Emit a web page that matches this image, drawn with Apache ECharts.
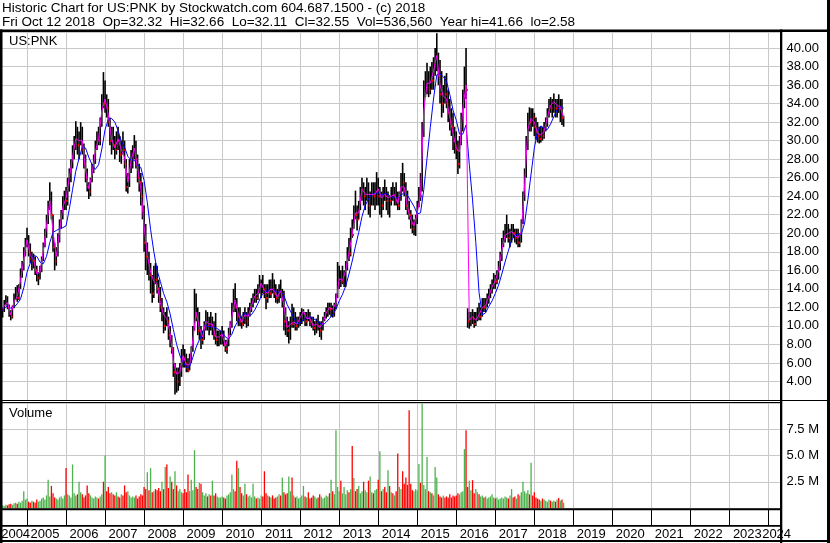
<!DOCTYPE html>
<html><head><meta charset="utf-8">
<script src="https://cdn.jsdelivr.net/npm/echarts@6.0.0/dist/echarts.min.js"></script>
<style>html,body{margin:0;padding:0;background:#fff}#c{width:830px;height:543px}</style>
</head><body><div id="c"></div>
<script>
// ---- time base: half-month periods from May 2004 to May 2024 ----
const firstYear = 2004, firstMonth = 5, periodCount = 481;

// ---- price per half-month: high / low / close (2004-05 .. 2018-10) ----
const high = [
12.4,12.0,12.8,13.3,13.2,12.3,11.7,12.2,13.5,14.2,14.4,14.5,16.2,17.0,18.5,19.5,
20.6,19.8,18.9,18.0,17.8,17.5,16.5,15.8,16.5,17.5,19.0,20.5,22.0,23.5,25.5,24.5,22.0,19.0,18.5,20.0,21.5,22.5,24.0,24.6,
25.0,26.0,27.0,28.0,29.5,30.5,32.1,31.5,31.0,32.0,31.5,29.7,28.5,27.0,25.5,26.0,27.5,28.5,30.0,31.0,31.5,32.5,35.0,37.4,
36.5,35.0,34.5,32.5,31.5,31.5,30.5,31.0,31.5,30.5,30.0,31.0,30.0,28.0,26.5,28.0,29.0,29.5,30.6,30.0,28.5,27.5,26.5,25.5,
23.0,21.0,19.0,18.0,16.8,15.5,16.5,16.8,16.5,15.0,14.2,13.0,12.0,11.5,12.0,11.0,10.0,9.0,7.7,6.0,5.5,5.5,6.0,7.5,
8.0,7.5,7.0,6.5,7.0,7.8,10.0,14.0,13.5,12.0,11.5,10.0,9.5,10.5,11.7,11.5,11.0,11.5,11.0,10.5,11.4,9.5,9.5,9.5,
10.0,9.5,8.5,8.5,9.8,10.5,12.5,14.0,14.6,13.0,12.0,12.0,11.0,11.5,12.0,11.5,12.0,12.5,13.0,13.5,14.0,14.0,14.5,15.5,
15.0,15.5,14.5,14.5,14.5,15.0,15.0,15.7,15.0,14.5,14.0,14.5,15.0,14.0,13.8,12.0,11.0,10.5,11.0,12.4,12.0,11.5,11.0,11.0,
11.5,11.9,11.8,11.5,11.5,11.8,11.5,11.0,11.0,10.5,10.8,11.2,10.5,10.5,11.0,11.5,12.0,12.5,12.5,12.5,12.2,12.5,13.5,16.9,
16.5,16.0,16.5,16.0,17.0,18.5,19.5,20.6,21.5,23.0,24.6,23.0,23.5,25.0,26.0,25.5,25.0,26.0,25.5,24.5,25.5,25.5,25.5,26.6,
26.0,25.0,24.5,25.0,25.8,25.0,24.5,24.0,25.0,25.5,25.0,25.5,24.5,24.5,26.5,27.6,26.5,25.5,24.6,23.5,22.5,22.0,21.5,22.0,
23.5,25.0,26.5,32.0,36.5,37.5,38.4,37.5,38.0,38.5,39.0,40.0,41.6,39.5,38.7,37.5,36.0,37.0,37.3,35.5,34.5,33.5,33.0,31.5,
31.0,30.0,30.5,33.0,35.5,38.0,40.0,11.9,11.5,11.5,11.8,11.5,11.5,12.0,12.5,12.0,13.0,13.0,13.0,13.5,14.0,14.5,15.0,15.7,
15.5,16.0,17.0,18.0,19.5,20.3,21.0,22.0,21.0,20.5,21.0,21.0,20.5,20.5,20.5,20.0,21.5,24.5,27.0,30.5,33.0,33.6,33.5,33.5,
33.0,32.5,32.0,31.5,31.5,31.5,32.0,32.5,33.5,34.5,34.7,34.5,35.1,34.5,34.5,35.0,34.5,34.5,32.7
];
const low = [
11.0,10.9,11.5,12.2,11.8,11.0,10.6,10.8,11.9,12.8,12.6,12.8,14.0,15.2,16.0,17.5,
18.5,17.5,16.8,16.0,16.2,15.5,14.8,14.4,15.0,15.8,17.0,18.5,19.5,21.0,22.5,21.5,18.0,16.0,16.5,17.5,19.0,20.5,21.5,22.5,
22.5,23.0,24.5,25.5,27.0,28.0,29.0,28.5,28.0,29.5,28.5,27.0,25.5,24.5,23.7,24.0,25.5,26.5,27.5,29.0,29.5,29.5,31.5,33.5,
33.0,32.5,31.5,29.5,28.5,29.0,28.0,28.5,29.0,27.7,27.5,28.5,27.0,24.5,24.3,25.0,26.5,27.0,28.0,27.0,25.5,24.5,23.0,21.5,
18.0,16.0,15.5,14.9,13.5,12.5,13.0,14.5,13.5,12.5,11.5,10.5,9.2,9.5,10.0,8.5,7.7,7.0,4.5,2.6,2.8,3.0,3.5,4.5,
5.5,5.5,5.0,5.0,5.2,6.0,7.2,9.5,10.5,9.0,8.5,7.5,8.0,8.5,9.5,9.5,9.0,9.5,9.0,8.5,8.0,7.8,7.8,8.0,
8.0,7.8,7.2,7.0,7.8,9.0,9.8,11.5,11.5,10.5,10.0,10.0,9.7,10.0,10.2,9.8,10.0,11.0,11.5,12.0,12.5,12.5,12.8,13.5,
13.0,13.5,13.0,11.8,12.5,13.0,13.0,13.5,13.0,12.5,12.4,12.5,13.0,12.0,9.5,9.0,8.8,8.1,8.5,9.8,9.8,9.5,9.5,9.8,
10.0,10.2,10.5,10.0,10.0,10.5,10.0,9.8,9.5,9.0,9.2,9.5,8.8,8.5,9.5,10.5,10.8,11.0,11.2,11.0,10.9,11.0,11.8,13.0,
14.0,14.2,14.5,14.2,14.2,16.0,17.0,17.5,19.5,20.5,21.5,20.3,21.5,22.5,23.5,23.0,22.5,23.5,22.0,21.7,23.0,23.0,22.5,23.0,
23.0,22.0,21.7,22.5,23.5,22.5,22.0,21.7,23.0,23.5,23.0,23.0,22.5,22.5,23.5,24.5,24.0,22.5,22.0,21.5,20.5,20.0,19.8,19.7,
21.0,22.8,23.5,24.5,30.4,34.7,35.0,34.7,35.0,35.5,35.5,37.0,37.5,36.0,34.0,32.5,33.0,34.0,33.5,32.0,31.1,30.5,29.0,28.6,
28.0,26.4,27.0,29.5,31.0,33.5,34.5,9.8,9.7,10.0,10.2,9.8,10.0,10.5,10.6,10.6,11.0,11.5,11.5,12.0,12.4,13.0,13.5,14.0,
14.0,14.5,15.0,16.0,17.0,18.5,19.0,19.5,19.0,18.5,19.0,19.5,19.0,18.8,18.5,18.5,19.0,21.0,23.5,26.0,29.0,31.0,31.0,31.5,
30.5,30.1,29.8,29.7,29.8,30.0,30.2,31.0,31.5,32.5,33.0,32.5,33.0,32.5,32.5,33.0,32.0,31.7,31.5
];
const close = [
11.5,11.8,12.5,13.0,12.0,11.3,11.0,12.0,13.2,13.4,13.0,14.2,15.6,16.5,18.0,19.0,
19.6,18.0,17.2,17.5,17.0,16.0,15.2,15.5,16.2,17.2,18.8,20.0,21.5,23.0,24.0,22.0,18.5,17.0,18.0,19.5,21.0,22.0,23.5,24.0,
23.5,25.5,26.5,27.5,29.0,30.0,30.5,29.5,30.5,31.0,29.0,27.5,26.0,25.0,24.5,25.8,27.0,28.0,29.5,30.5,30.0,32.0,34.5,34.0,
35.0,33.5,32.0,30.0,30.5,29.5,29.0,30.5,30.0,28.5,29.5,29.0,27.5,25.0,26.0,27.5,28.0,29.0,29.5,28.0,26.0,25.5,24.0,22.5,
19.0,17.5,17.8,15.5,16.0,13.5,16.0,15.0,14.0,13.0,12.0,12.3,10.0,11.0,10.5,9.0,9.5,7.5,5.0,5.5,4.0,4.5,5.5,7.0,
6.5,6.0,5.5,5.2,6.5,7.5,9.5,12.0,11.0,9.5,10.0,8.5,9.0,10.0,11.0,10.0,10.5,10.0,10.3,9.0,8.5,8.7,8.8,9.0,
9.2,8.0,7.5,8.0,9.5,10.0,12.0,13.5,12.0,11.0,11.5,10.5,10.2,11.0,11.3,10.5,11.5,12.0,12.5,13.0,13.5,13.0,14.0,14.5,
14.8,14.0,13.5,13.0,14.0,13.5,14.5,14.0,13.5,13.0,13.2,14.0,13.5,13.8,10.5,10.0,9.5,9.8,10.5,10.2,10.5,10.0,10.5,10.8,
11.0,11.5,11.7,10.5,11.2,11.0,10.5,10.2,9.8,10.0,10.5,10.0,9.5,9.8,10.8,11.0,11.8,12.2,11.8,12.0,11.5,12.0,13.0,15.0,
15.2,14.8,15.0,15.5,16.5,18.0,17.8,20.0,19.8,22.5,22.0,21.5,23.0,24.5,25.0,24.0,24.5,25.5,23.0,24.0,24.5,24.0,24.5,25.5,
24.0,24.5,23.0,24.5,24.0,23.5,24.0,23.5,24.5,24.0,24.5,23.5,23.0,24.0,26.0,25.5,24.5,23.0,22.5,22.0,21.0,20.5,21.0,21.5,
23.0,24.5,24.0,31.0,35.5,36.0,36.5,35.5,37.0,36.5,38.5,39.0,39.5,37.0,35.0,34.0,35.5,35.0,34.0,33.0,32.0,31.5,30.0,29.5,
29.0,27.5,30.0,32.5,34.5,36.5,35.5,10.5,10.8,11.2,10.8,10.2,11.0,11.5,11.0,11.5,12.5,12.0,12.5,13.0,13.5,14.0,14.5,15.0,
14.8,15.5,16.5,17.5,19.0,19.5,20.0,20.5,19.5,20.0,20.5,20.0,19.5,20.0,19.0,19.5,21.0,24.0,26.5,30.0,32.5,32.0,32.8,32.5,
31.5,31.0,30.5,30.2,31.0,30.5,31.5,32.0,33.0,34.0,33.5,34.0,34.3,33.5,34.0,33.5,33.8,32.5,32.55
];

// ---- volume per half-month, millions of shares ----
const volume = [
0.3,0.25,0.2,0.3,0.25,0.35,0.4,0.3,0.45,0.5,0.4,0.6,0.5,0.7,1.6,0.8,
0.9,0.6,0.5,0.7,0.6,0.5,0.8,0.6,0.7,0.9,1.0,0.8,1.2,2.7,1.1,2.1,1.4,1.0,0.9,0.8,1.0,1.1,0.9,1.2,
3.8,1.3,1.2,1.0,4.15,1.4,1.2,1.3,2.5,1.5,1.3,1.0,1.2,2.15,1.4,1.2,1.0,0.9,1.1,1.0,0.9,1.1,1.3,2.5,
5.0,1.6,2.0,1.4,1.5,1.3,1.2,1.5,1.1,1.0,1.3,1.2,2.15,1.5,1.6,1.2,1.0,1.1,1.0,1.2,0.9,1.1,1.3,1.2,
2.0,1.8,3.4,1.7,3.8,1.5,1.6,1.8,1.7,1.9,1.6,2.5,1.8,3.9,4.15,1.9,3.0,2.5,1.8,3.5,2.15,1.6,1.8,1.5,
1.4,1.8,1.5,3.2,1.6,2.7,1.7,5.5,2.0,1.8,2.4,2.3,1.5,1.2,1.4,1.1,1.3,1.2,2.6,1.2,1.4,1.1,1.0,1.0,
1.1,1.0,0.9,1.2,1.3,1.5,3.2,1.8,1.6,4.5,3.8,2.0,1.4,1.2,2.3,1.3,1.1,1.2,1.0,2.3,1.1,0.9,1.0,0.9,
1.2,1.1,3.5,1.4,1.2,1.1,1.0,1.2,0.9,1.0,1.1,1.3,1.2,2.9,1.5,1.3,1.4,3.0,1.6,2.9,1.2,1.0,1.1,0.9,
1.0,1.2,2.1,1.1,1.0,1.5,0.9,1.0,1.2,1.1,0.9,1.0,1.3,1.1,0.9,1.0,1.2,1.1,1.4,2.7,1.6,1.3,7.4,2.0,
1.6,2.6,1.4,2.0,1.3,1.7,1.5,1.8,5.9,2.85,1.6,1.8,2.1,1.4,1.6,2.5,1.7,1.5,2.6,3.0,1.5,1.4,1.7,1.8,
2.7,5.4,1.6,1.8,2.0,1.5,3.6,2.1,1.5,1.4,1.2,1.6,5.2,2.0,1.8,3.5,2.3,2.9,2.2,9.3,2.3,1.7,1.6,1.8,
1.7,4.2,2.4,9.95,2.2,1.8,4.85,1.6,1.5,1.4,1.2,3.9,2.9,1.3,1.1,1.0,1.2,1.0,1.1,1.0,1.3,1.0,1.2,1.1,
1.2,1.4,1.3,1.5,1.6,5.6,7.4,2.0,2.6,1.7,2.65,1.4,1.8,1.5,1.3,1.1,1.2,1.0,1.1,0.9,1.0,1.1,1.3,1.0,
0.9,1.0,0.8,0.9,1.0,0.9,1.1,1.0,0.9,1.2,1.8,1.0,1.1,0.9,1.3,1.2,1.5,2.5,1.6,1.4,1.7,1.3,4.3,1.2,
1.5,1.0,0.9,0.8,0.7,0.9,0.8,0.7,0.6,0.8,0.7,0.6,0.7,0.6,0.8,0.95,0.7,0.8,0.5
];

// ---- moving averages read at each month start (every 2nd period) ----
const maShort = [
11.5,12.2,12.5,11.2,12.6,13.2,14.9,17.2,
19.3,17.6,17.2,15.6,15.8,18.0,20.8,23.5,20.2,17.5,20.2,22.8,
23.8,26.0,28.2,30.2,30.0,30.0,26.8,24.8,26.4,28.8,30.2,33.2,
34.5,32.8,30.2,29.2,30.2,29.0,28.2,25.5,27.8,29.2,27.0,24.8,
20.8,17.6,15.8,14.8,14.5,12.5,11.2,10.8,9.2,6.2,4.8,5.0,
6.8,5.8,5.8,8.5,11.5,9.8,8.8,10.5,10.2,10.2,8.8,8.8,
9.1,7.8,8.8,11.0,12.8,11.2,10.4,11.2,11.0,12.2,13.2,13.5,
14.6,13.8,13.5,14.0,13.8,13.1,13.8,12.2,9.8,10.2,10.4,10.2,
10.9,11.6,10.8,10.8,10.0,10.2,9.8,10.3,11.4,12.0,11.8,12.5,
15.1,14.9,16.0,17.9,19.9,22.2,22.2,24.8,24.2,24.2,24.2,24.2,
24.8,23.8,24.2,23.8,24.0,24.2,23.2,25.0,25.0,22.8,21.5,20.8,
22.2,24.2,33.2,36.2,36.2,37.5,39.2,36.0,34.8,34.5,32.5,30.8,
29.2,28.8,33.5,36.0,10.6,11.0,10.6,11.2,12.0,12.2,13.2,14.2,
14.9,16.0,18.2,19.8,20.0,20.2,19.8,19.5,20.2,25.2,31.2,32.4,
32.0,30.8,30.6,31.0,32.5,33.8,34.2,33.8,33.6,32.5
];
const maLong = [
11.5,11.9,12.2,11.9,12.0,12.4,12.9,14.1,
15.8,16.8,17.6,17.5,16.9,16.7,17.5,19.0,20.1,20.3,20.5,20.6,
20.8,22.6,24.7,26.7,28.1,29.3,29.2,28.2,27.4,26.9,27.4,29.1,
31.2,32.3,32.4,32.0,31.1,29.9,29.3,28.3,27.9,27.9,27.4,27.1,
25.7,23.3,20.4,18.0,16.0,14.8,13.5,12.6,11.3,9.6,8.0,6.8,
6.1,5.5,5.6,6.6,7.7,8.5,9.3,10.1,9.9,9.9,9.8,9.6,
9.3,8.8,8.6,9.1,10.0,10.6,11.1,11.4,11.1,11.2,11.7,12.4,
13.2,13.6,13.8,14.0,13.9,13.6,13.7,13.3,12.3,11.6,10.9,10.2,
10.3,10.7,10.9,11.0,10.8,10.6,10.3,10.1,10.4,10.8,11.2,11.8,
12.7,13.4,14.3,15.6,17.0,18.6,20.1,21.8,23.0,23.7,24.2,24.3,
24.4,24.1,24.3,24.2,23.9,23.9,23.8,24.1,24.4,24.1,23.5,22.9,
22.1,22.2,24.7,28.1,31.4,34.5,37.1,37.2,36.9,36.4,35.0,33.3,
32.2,30.7,30.7,31.7,27.4,23.6,19.0,13.6,11.2,11.4,12.1,12.7,
13.5,14.4,15.6,16.9,18.1,19.2,19.8,19.9,19.9,21.1,23.6,26.4,
29.2,31.0,31.6,31.3,31.2,31.8,32.6,33.3,33.7,33.5
];

// ---- texts ----
const titleLine1 = 'Historic Chart for US:PNK by Stockwatch.com 604.687.1500 - (c) 2018';
const titleLine2 = 'Fri Oct 12 2018  Op=32.32  Hi=32.66  Lo=32.11  Cl=32.55  Vol=536,560  Year hi=41.66  lo=2.58';
const symbolLabel = 'US:PNK';
const volumeLabel = 'Volume';

// ---- build categories ----
const periods = [];
for (let i = 0; i < periodCount; i++) {
  const m = firstMonth - 1 + Math.floor(i / 2);
  const y = firstYear + Math.floor(m / 12);
  periods.push(y + '-' + String(m % 12 + 1).padStart(2, '0') + (i % 2 ? 'b' : 'a'));
}
const isYearStart = (idx, val) => val.slice(5) === '01a';
// year label placed near the middle of the visible part of each year
const labelIdx = new Set();
{
  const starts = [];
  periods.forEach((p, i) => { if (p.slice(5) === '01a') starts.push(i); });
  const bounds = [0, ...starts, periodCount - 1];
  for (let k = 0; k < bounds.length - 1; k++) {
    const a = bounds[k], b = bounds[k + 1];
    const mid = (a + b) / 2;
    labelIdx.add(b - a < 20 ? Math.round(mid + 1) : Math.round(mid - 1.5));
  }
}

const FONT = "'Liberation Sans', Arial, sans-serif";
const GRID_GREY = '#c8c8c8';
const UP_GREEN = '#4db24d', DOWN_RED = '#ff0000';

const barData = high.map((h, i) => [i, h, low[i], close[i], i === 0 ? 0 : close[i] - close[i - 1]]);
const volData = volume.map((v, i) => ({
  value: v,
  itemStyle: { color: (i === 0 || close[i] >= close[i - 1]) ? UP_GREEN : DOWN_RED }
}));
const shortData = maShort.map((v, k) => [2 * k, v]);
const longData = maLong.map((v, k) => [2 * k, v]);

const gridW = 780.5;
const chart = echarts.init(document.getElementById('c'), null, { renderer: 'canvas' });

const catAxisBase = (gi) => ({
  type: 'category', gridIndex: gi, data: periods, boundaryGap: false,
  axisLine: { show: false }, axisTick: { show: false }, axisLabel: { show: false },
  splitLine: { show: true, interval: isYearStart, lineStyle: { color: GRID_GREY, width: 1 } }
});

const option = {
  animation: false,
  backgroundColor: '#fff',
  grid: [
    { left: 1, top: 32, width: gridW, height: 368, outerBoundsMode: 'none', containLabel: false },
    { left: 1, top: 403, width: gridW, height: 105, outerBoundsMode: 'none', containLabel: false },
    { left: 1, top: 510, width: gridW, height: 16, outerBoundsMode: 'none', containLabel: false }
  ],
  xAxis: [
    catAxisBase(0),
    catAxisBase(1),
    Object.assign(catAxisBase(2), {
      splitLine: { show: true, interval: isYearStart, lineStyle: { color: '#000', width: 1 } },
      axisLabel: {
        show: true,
        interval: (idx) => labelIdx.has(idx),
        formatter: (v) => v.slice(0, 4),
        margin: 8, verticalAlign: 'middle',
        color: '#000', fontSize: 13, fontFamily: FONT
      }
    })
  ],
  yAxis: [
    {
      type: 'value', gridIndex: 0, position: 'right', min: 2, max: 41.73, interval: 2,
      axisLine: { show: false }, axisTick: { show: false },
      axisLabel: {
        margin: 5, color: '#000', fontSize: 13, fontFamily: FONT,
        formatter: (v) => (v < 3 || v > 40.5) ? '' : v.toFixed(2)
      },
      splitLine: { show: true, lineStyle: { color: GRID_GREY, width: 1 } }
    },
    {
      type: 'value', gridIndex: 1, position: 'right', min: 0, max: 10, interval: 2.5,
      axisLine: { show: false }, axisTick: { show: false },
      axisLabel: {
        margin: 5, color: '#000', fontSize: 13, fontFamily: FONT,
        formatter: (v) => (v <= 0 || v >= 10) ? '' : v.toFixed(1) + ' M'
      },
      splitLine: { show: true, lineStyle: { color: GRID_GREY, width: 1 } }
    },
    { type: 'value', gridIndex: 2, show: false, min: 0, max: 1, splitLine: { show: false } }
  ],
  series: [
    {
      type: 'custom', xAxisIndex: 0, yAxisIndex: 0, data: barData,
      encode: { x: 0, y: [1, 2] }, silent: true,
      renderItem: (params, api) => {
        const i = api.value(0);
        const pH = api.coord([i, api.value(1)]);
        const pL = api.coord([i, api.value(2)]);
        return { type: 'rect', shape: { x: pH[0] - 0.8, y: pH[1], width: 1.6, height: Math.max(1, pL[1] - pH[1]) }, style: { fill: '#000' } };
      }
    },
    {
      type: 'custom', xAxisIndex: 0, yAxisIndex: 0, data: barData,
      encode: { x: 0, y: 3 }, silent: true,
      renderItem: (params, api) => {
        if (api.value(4) >= 0) return null;
        const i = api.value(0);
        const pC = api.coord([i, api.value(3)]);
        return { type: 'rect', shape: { x: pC[0] + 0.2, y: pC[1] - 1, width: 1.6, height: 2.2 }, style: { fill: DOWN_RED } };
      }
    },
    {
      type: 'line', xAxisIndex: 0, yAxisIndex: 0, data: longData, showSymbol: false, silent: true,
      lineStyle: { color: '#0000ff', width: 1 }
    },
    {
      type: 'line', xAxisIndex: 0, yAxisIndex: 0, data: shortData, showSymbol: false, silent: true,
      lineStyle: { color: '#ff00ff', width: 1 }
    },
    {
      type: 'bar', xAxisIndex: 1, yAxisIndex: 1, data: volData, barWidth: 1.3, silent: true
    }
  ],
  graphic: [
    { type: 'text', left: 2, top: 1.5, z: 100, style: { text: titleLine1, font: '13.5px ' + FONT, fill: '#000' } },
    { type: 'text', left: 2, top: 15, z: 100, style: { text: titleLine2, font: '13.5px ' + FONT, fill: '#000' } },
    { type: 'text', left: 9, top: 34.5, z: 100, style: { text: symbolLabel, font: '13px ' + FONT, fill: '#000' } },
    { type: 'text', left: 9, top: 406.5, z: 100, style: { text: volumeLabel, font: '13px ' + FONT, fill: '#000' } },
    // frame
    { type: 'rect', z: 100, shape: { x: 0, y: 29.5, width: 830, height: 2.5 }, style: { fill: '#000' } },
    { type: 'rect', z: 100, shape: { x: 0, y: 29.5, width: 2.5, height: 514 }, style: { fill: '#000' } },
    { type: 'rect', z: 100, shape: { x: 780, y: 29.5, width: 2.3, height: 514 }, style: { fill: '#000' } },
    { type: 'rect', z: 100, shape: { x: 827, y: 0, width: 3, height: 543 }, style: { fill: '#000' } },
    { type: 'rect', z: 100, shape: { x: 0, y: 400, width: 830, height: 1 }, style: { fill: '#000' } },
    { type: 'rect', z: 100, shape: { x: 0, y: 402, width: 782, height: 1 }, style: { fill: '#000' } },
    { type: 'rect', z: 100, shape: { x: 0, y: 508.3, width: 782, height: 2 }, style: { fill: '#000' } },
    { type: 'rect', z: 100, shape: { x: 0, y: 525, width: 782, height: 1.7 }, style: { fill: '#000' } },
    { type: 'rect', z: 100, shape: { x: 0, y: 540, width: 830, height: 2 }, style: { fill: '#000' } }
  ]
};
chart.setOption(option);
</script>
</body></html>
